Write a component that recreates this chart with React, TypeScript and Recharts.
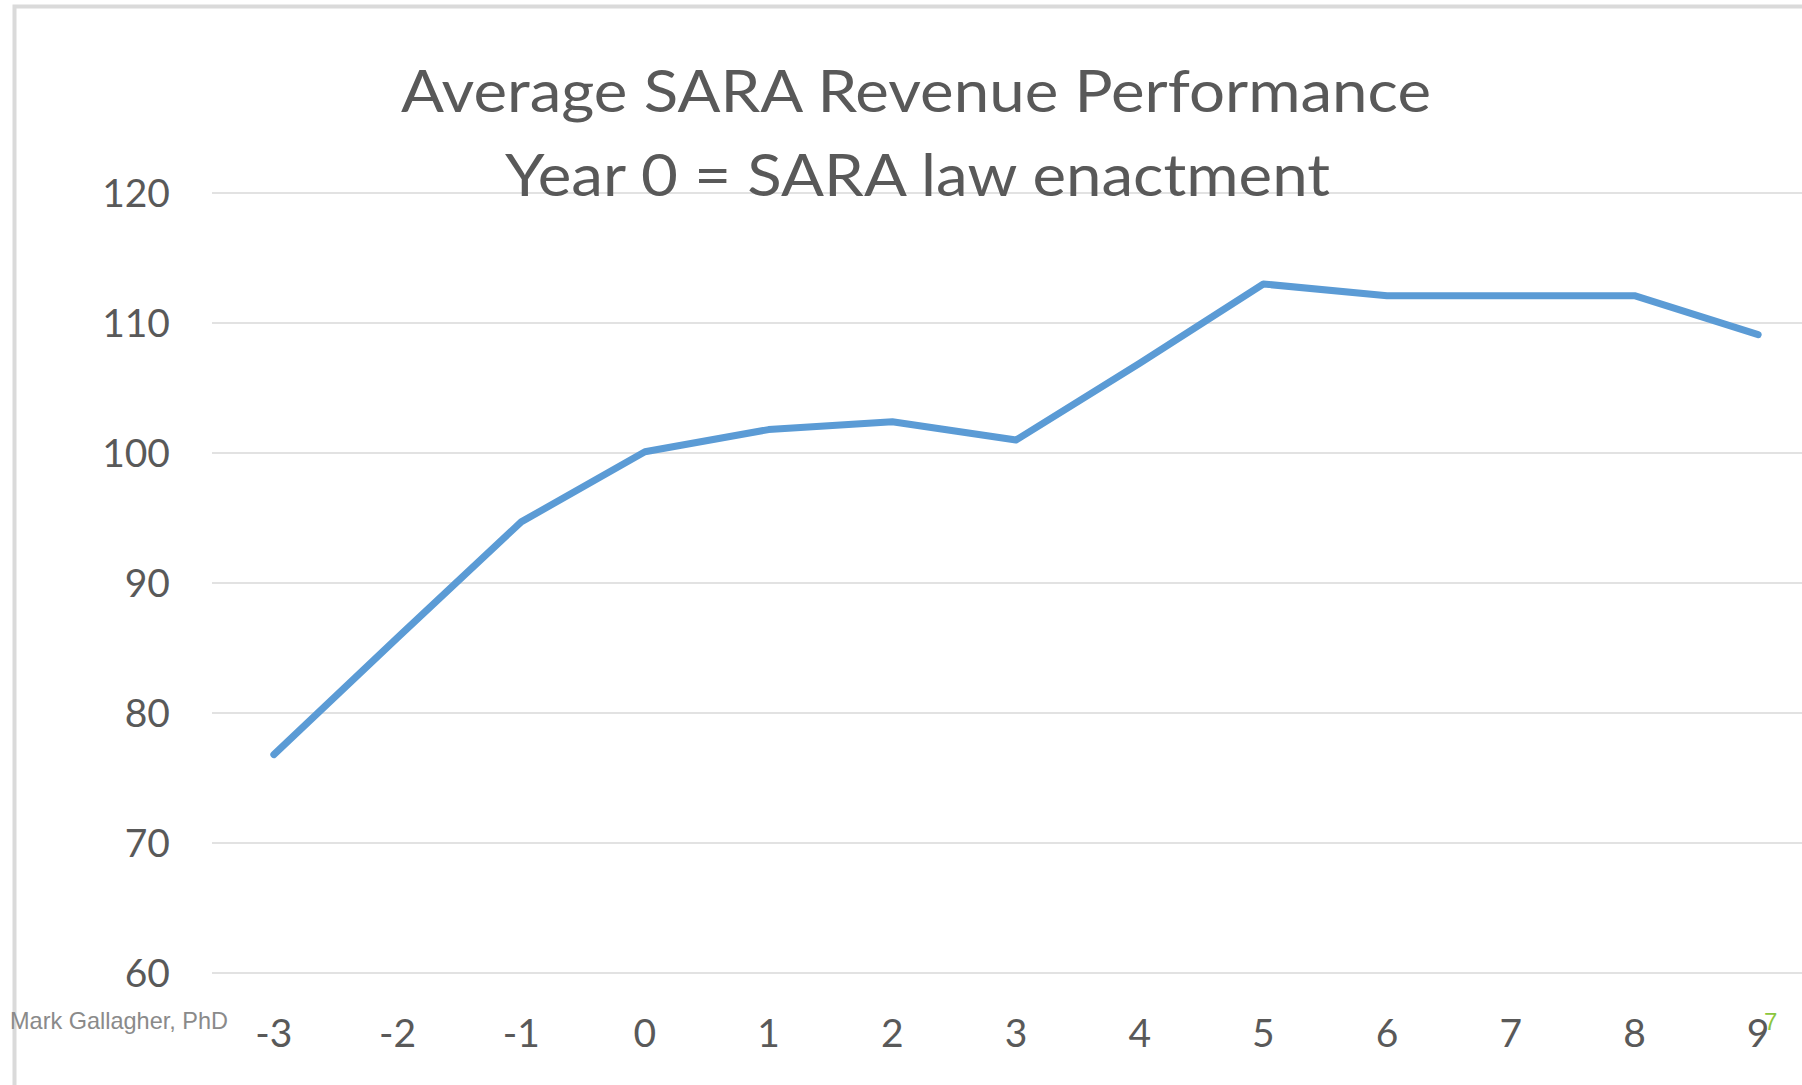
import React from "react";
import { LineChart, Line, XAxis, YAxis, CartesianGrid } from "recharts";

const years: string[] = ["-3", "-2", "-1", "0", "1", "2", "3", "4", "5", "6", "7", "8", "9"];
const revenue: number[] = [76.8, 85.8, 94.7, 100.1, 101.8, 102.4, 101.0, 106.9, 113.0, 112.1, 112.1, 112.1, 109.1];
const yTicks: number[] = [60, 70, 80, 90, 100, 110, 120];
const titleLine1 = "Average SARA Revenue Performance";
const titleLine2 = "Year 0 = SARA law enactment";
const footerText = "Mark Gallagher, PhD";
const slideNumber = "7";

const data = years.map((y, i) => ({ year: y, value: revenue[i] }));

const LABEL_COLOR = "#595959";
const FONT = "Lato, 'Open Sans', sans-serif";

const YTick = (props: any) => {
  const { x, y, payload } = props;
  return (
    <text x={x - 42} y={y + 14} textAnchor="end" fontFamily={FONT} fontSize={39} fill={LABEL_COLOR}>
      {payload.value}
    </text>
  );
};

const XTick = (props: any) => {
  const { x, y, payload } = props;
  return (
    <text x={x} y={y + 74} textAnchor="middle" fontFamily={FONT} fontSize={39} fill={LABEL_COLOR}>
      {payload.value}
    </text>
  );
};

export default function App() {
  return (
    <div
      style={{
        position: "fixed",
        left: 0,
        top: 0,
        width: 1802,
        height: 1085,
        overflow: "hidden",
        background: "#ffffff",
      }}
    >
      <div style={{ position: "absolute", left: 0, top: 0 }}>
        <LineChart
          width={1830}
          height={1085}
          data={data}
          margin={{ top: 193, right: 10, bottom: 0, left: 0 }}
        >
          <CartesianGrid horizontal={true} vertical={false} stroke="#d9d9d9" strokeWidth={1.5} />
          <XAxis
            dataKey="year"
            type="category"
            interval={0}
            height={112}
            padding={{ left: 61.85, right: 61.85 }}
            axisLine={false}
            tickLine={false}
            tickSize={0}
            tickMargin={0}
            tick={<XTick />}
          />
          <YAxis
            type="number"
            domain={[60, 120]}
            ticks={yTicks}
            interval={0}
            width={212}
            axisLine={false}
            tickLine={false}
            tickSize={0}
            tickMargin={0}
            tick={<YTick />}
          />
          <Line
            type="linear"
            dataKey="value"
            stroke="#5b9bd5"
            strokeWidth={7}
            strokeLinecap="round"
            strokeLinejoin="round"
            dot={false}
            activeDot={false}
            isAnimationActive={false}
          />
        </LineChart>
      </div>
      <svg
        width={1802}
        height={1085}
        style={{ position: "absolute", left: 0, top: 0, pointerEvents: "none" }}
      >
        <rect x={14.5} y={6.5} width={1900} height={1200} fill="none" stroke="#dadada" strokeWidth={4} />
        <text
          x={916}
          y={112}
          textAnchor="middle"
          fontFamily={FONT}
          fontSize={58.5}
          fill={LABEL_COLOR}
          textLength={1030}
          lengthAdjust="spacingAndGlyphs"
        >
          {titleLine1}
        </text>
        <text
          x={917.5}
          y={196}
          textAnchor="middle"
          fontFamily={FONT}
          fontSize={58.5}
          fill={LABEL_COLOR}
          textLength={825}
          lengthAdjust="spacingAndGlyphs"
        >
          {titleLine2}
        </text>
        <text
          x={10}
          y={1029}
          fontFamily="'Liberation Sans', Arial, sans-serif"
          fontSize={24}
          fill="#8a8a8a"
          textLength={218}
          lengthAdjust="spacingAndGlyphs"
        >
          {footerText}
        </text>
        <text
          x={1764}
          y={1030}
          fontFamily="'Liberation Sans', Arial, sans-serif"
          fontSize={24}
          fill="#8cc63e"
        >
          {slideNumber}
        </text>
      </svg>
    </div>
  );
}
